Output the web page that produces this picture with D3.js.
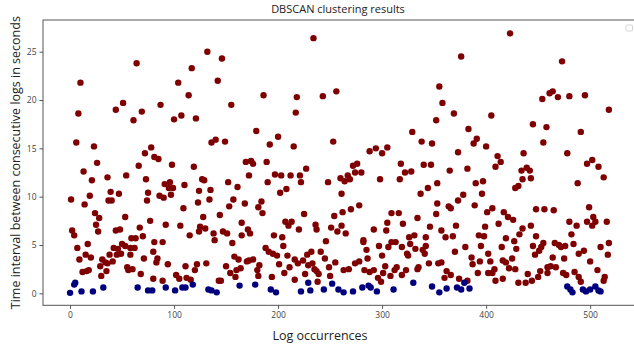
<!DOCTYPE html>
<html>
<head>
<meta charset="utf-8">
<script src="https://cdn.jsdelivr.net/npm/d3@7"></script>
<style>
  html, body { margin: 0; padding: 0; background: #fff; }
  svg { display: block; }
  text { font-family: "Open Sans", "DejaVu Sans", sans-serif; }
</style>
</head>
<body>
<svg id="chart" width="634" height="346"></svg>
<script>
// ---- data ----
const title = "DBSCAN clustering results";
const xLabel = "Log occurrences";
const yLabel = "Time interval between consecutive logs in seconds";
const xTicks = [0, 100, 200, 300, 400, 500];
const yTicks = [0, 5, 10, 15, 20, 25];

// core cluster (dark red)
const redX = [1,2,4,6,7,8,9,10,12,13,14,15,16,17,18,19,20,21,23,24,25,26,27,28,29,30,31,34,35,36,36,37,38,39,40,41,42,44,44,45,46,47,48,49,50,51,53,53,54,55,56,58,58,59,60,61,62,63,64,66,67,68,69,70,71,72,73,74,75,77,78,80,80,81,
  81,83,84,85,86,87,89,89,90,91,92,94,95,96,97,98,99,100,102,104,105,106,107,109,110,111,112,114,115,116,117,119,120,121,122,123,124,124,125,127,128,129,130,131,132,134,135,136,138,139,140,142,143,144,145,146,147,149,150,151,152,153,154,155,156,157,158,159,160,161,162,164,165,165,168,
  169,170,171,172,172,173,174,176,176,179,180,181,181,182,184,185,186,188,189,190,191,192,194,195,196,197,199,200,201,202,203,204,205,206,207,208,209,210,211,212,213,215,216,216,217,218,219,220,221,222,224,225,226,227,228,229,232,233,234,235,236,237,237,238,239,241,243,245,246,248,249,250,251,253,254,255,256,257,
  260,261,261,262,263,264,265,267,268,269,270,272,274,274,276,278,278,280,282,282,283,285,286,288,288,292,292,294,296,297,298,299,300,300,301,303,304,305,305,306,308,309,309,312,313,314,316,317,318,319,319,320,322,323,324,325,326,327,328,329,331,332,334,334,335,337,338,339,340,341,342,342,344,345,346,347,348,
  352,352,353,353,354,355,357,357,358,360,361,362,364,365,366,366,368,369,370,371,373,373,374,376,378,380,382,382,383,386,387,388,389,390,391,392,393,394,395,396,397,398,399,400,401,402,402,404,405,406,406,408,409,409,411,412,414,415,416,416,417,419,419,421,422,423,425,426,427,428,428,429,431,431,432,434,435,435,436,438,439,440,
  442,443,443,444,445,445,447,448,448,450,451,452,453,454,455,455,456,458,459,459,461,462,464,464,465,466,467,469,470,472,473,474,475,476,477,478,480,480,482,484,485,487,488,489,489,491,491,494,495,497,497,499,500,502,502,503,505,507,508,510,513,513,514,516,517,518,518];
const redY = [9.7,6.5,6.0,15.6,4.7,18.6,3.5,21.8,2.2,12.6,9.2,4.0,2.3,5.1,2.4,10.1,3.7,11.7,15.2,8.3,7.1,13.5,6.4,7.8,2.8,1.8,3.5,3.2,2.3,12.0,3.1,9.6,4.0,10.5,9.6,3.3,4.7,6.5,19.0,4.0,4.6,10.3,6.6,4.1,5.1,19.7,4.9,7.9,12.2,2.7,2.4,4.7,4.0,5.7,2.5,17.9,4.7,5.7,23.8,13.2,6.8,2.0,18.8,5.9,3.6,14.5,11.8,9.6,10.4,7.5,15.1,1.5,4.3,14.1,
  5.3,3.2,3.6,13.9,10.1,19.5,5.3,1.3,9.9,11.3,7.1,3.0,10.9,11.5,10.2,13.3,10.9,18.0,1.9,21.8,1.5,7.0,18.4,8.8,11.2,2.8,1.6,20.5,6.0,1.4,23.3,13.1,2.4,18.1,3.0,9.4,10.6,6.4,6.9,11.8,7.9,11.7,6.7,3.1,25.0,9.7,10.7,15.6,6.2,5.5,15.9,22.0,1.3,8.1,1.3,24.3,6.4,15.7,2.8,6.2,11.5,9.0,2.1,19.5,5.2,9.7,3.8,1.7,2.4,11.0,3.5,2.6,7.3,6.0,9.3,
  13.6,3.3,6.6,12.2,3.4,6.2,13.7,3.5,13.4,16.8,2.4,1.8,8.9,2.9,9.5,8.3,20.5,4.7,13.6,11.5,4.3,15.4,1.7,4.1,6.0,12.3,3.9,16.2,3.0,10.4,12.2,5.8,4.9,2.1,7.4,10.8,3.9,7.0,2.7,12.2,7.4,15.2,3.5,1.4,18.7,20.3,3.1,6.6,12.2,11.5,3.4,8.2,2.0,12.9,4.0,2.9,4.3,3.1,26.4,2.5,7.1,2.3,6.6,1.2,2.0,4.3,20.4,3.6,5.4,11.5,2.7,1.8,6.8,15.7,8.0,3.2,20.9,6.4,
  11.9,7.0,10.3,8.4,2.4,11.6,6.2,12.2,2.5,11.8,8.7,13.2,12.5,3.1,13.4,9.1,3.3,12.5,5.5,5.3,2.4,4.5,3.6,14.7,2.2,2.4,6.6,15.0,1.6,4.9,11.8,1.2,14.5,3.9,2.1,2.8,6.5,15.1,7.3,4.8,1.8,5.3,8.3,2.4,5.3,2.7,8.3,11.8,13.4,4.8,1.9,7.2,12.5,2.4,4.1,3.9,5.8,5.1,12.6,16.7,6.0,4.6,7.8,2.5,2.7,10.3,15.7,4.5,13.3,4.1,5.8,4.9,10.9,3.1,6.9,13.3,15.5,
  17.9,8.2,9.3,11.4,3.1,21.4,6.5,3.2,19.7,1.6,5.8,2.3,9.0,12.7,1.9,8.8,5.9,18.6,4.3,7.0,9.6,14.6,1.5,24.5,10.2,4.8,12.9,1.3,17.0,3.7,3.0,15.5,9.1,11.4,16.0,2.1,6.0,3.3,4.9,10.3,11.6,5.9,6.9,15.2,8.4,4.1,2.1,3.3,18.4,8.8,2.1,2.5,1.3,13.1,14.2,7.2,13.6,4.8,3.4,1.5,8.4,5.7,3.2,7.9,2.6,26.9,3.6,7.6,5.4,10.9,2.5,4.6,1.1,11.1,6.1,12.7,11.8,6.7,14.5,1.1,13.0,2.0,
  12.7,11.9,7.0,1.3,17.5,4.9,4.0,5.9,8.7,1.7,4.4,2.3,4.8,20.1,5.2,15.6,8.7,17.2,2.7,2.1,20.7,2.8,20.9,3.7,8.6,5.2,2.7,20.3,5.0,4.8,24.0,2.1,3.6,4.9,1.9,14.5,7.4,20.4,6.1,5.1,2.2,7.0,11.4,4.1,1.7,16.7,1.2,4.4,20.5,13.4,7.4,8.9,3.3,13.8,7.0,7.9,7.4,2.4,13.1,4.8,12.0,1.3,1.7,7.4,4.0,5.2,19.0];

// second cluster (dark blue)
const blueX = [0,4,5,11,22,32,65,75,79,92,101,108,111,118,133,136,141,163,178,193,198,222,229,231,244,252,258,263,272,281,287,289,295,311,330,348,355,362,372,376,379,384,478,481,483,493,496,500,505,508,510];
const blueY = [0.05,0.9,1.1,0.2,0.2,0.6,0.6,0.3,0.3,0.6,0.3,0.6,0.6,0.9,0.4,0.3,0.1,0.8,0.9,0.4,0.1,0.2,1.1,0.3,0.4,1.0,0.4,0.1,0.2,0.6,0.8,0.6,0.2,0.4,1.1,0.7,0.1,0.5,0.6,0.4,1.1,0.5,0.7,0.4,0.1,0.4,0.2,0.4,0.7,0.3,0.2];

// ---- drawing ----
const svg = d3.select("#chart");
const W = 634, H = 346;
const plot = { left: 43, top: 20, right: 638, bottom: 305.3 };

svg.append("rect").attr("width", W).attr("height", H).attr("fill", "#fff");

const x = d3.scaleLinear().domain([-26, 546]).range([plot.left, plot.right]);
const y = d3.scaleLinear().domain([-1.24, 28.28]).range([plot.bottom, plot.top]);

const clipId = "plotclip";
svg.append("clipPath").attr("id", clipId)
  .append("rect").attr("x", plot.left).attr("y", plot.top)
  .attr("width", plot.right - plot.left).attr("height", plot.bottom - plot.top);

const pts = svg.append("g").attr("clip-path", `url(#${clipId})`);

const red = redX.map((v, i) => ({ x: v, y: redY[i] }));
const blue = blueX.map((v, i) => ({ x: v, y: blueY[i] }));

pts.selectAll("circle.red").data(red).join("circle")
  .attr("class", "red")
  .attr("cx", d => x(d.x)).attr("cy", d => y(d.y)).attr("r", 3.2)
  .attr("fill", "#7f0000");

pts.selectAll("circle.blue").data(blue).join("circle")
  .attr("class", "blue")
  .attr("cx", d => x(d.x)).attr("cy", d => y(d.y)).attr("r", 3.2)
  .attr("fill", "#00007f");

// frame
svg.append("rect")
  .attr("x", plot.left).attr("y", plot.top)
  .attr("width", plot.right - plot.left).attr("height", plot.bottom - plot.top)
  .attr("fill", "none").attr("stroke", "#555").attr("stroke-width", 1);

// axes
const xAxis = svg.append("g")
  .attr("transform", `translate(0,${plot.bottom})`)
  .call(d3.axisBottom(x).tickValues(xTicks).tickSize(3.5).tickPadding(3).tickFormat(d3.format("d")));
const yAxis = svg.append("g")
  .attr("transform", `translate(${plot.left},0)`)
  .call(d3.axisLeft(y).tickValues(yTicks).tickSize(3.5).tickPadding(3).tickFormat(d3.format("d")));
[xAxis, yAxis].forEach(g => {
  g.select(".domain").remove();
  g.selectAll(".tick line").attr("stroke", "#555");
  g.selectAll(".tick text").attr("fill", "#444").style("font-size", "8.5px")
    .style("font-family", "'Open Sans', 'DejaVu Sans', sans-serif");
});

// title
svg.append("text")
  .attr("x", 338).attr("y", 13)
  .attr("text-anchor", "middle")
  .attr("fill", "#222").style("font-size", "11px")
  .text(title);

// x label
svg.append("text")
  .attr("x", 320).attr("y", 340)
  .attr("text-anchor", "middle")
  .attr("fill", "#222").style("font-size", "12.5px")
  .text(xLabel);

// y label
svg.append("text")
  .attr("transform", `translate(20,${(plot.top + plot.bottom) / 2}) rotate(-90)`)
  .attr("text-anchor", "middle")
  .attr("fill", "#222").style("font-size", "12.5px")
  .text(yLabel);

// empty legend box
svg.append("rect")
  .attr("x", 626).attr("y", 25).attr("width", 6.5).attr("height", 6)
  .attr("rx", 1).attr("fill", "#fff").attr("stroke", "#ccc").attr("stroke-width", 0.8);
</script>
</body>
</html>
